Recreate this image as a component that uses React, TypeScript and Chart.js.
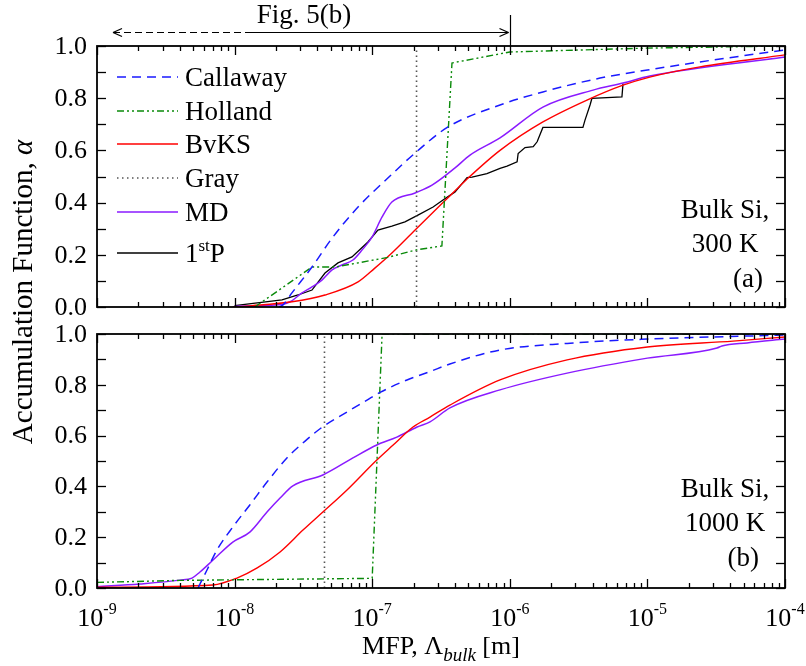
import React, { useEffect, useRef } from "react";
import { Chart, registerables } from "chart.js";

Chart.register(...registerables);

const FONT = '"Liberation Serif", "Times New Roman", serif';

// ---------- axis definitions ----------
const X_MIN = 1e-9;
const X_MAX = 1e-4;
const X_TICK_EXPONENTS = [-9, -8, -7, -6, -5, -4];
const Y_TICK_VALUES = [0, 0.2, 0.4, 0.6, 0.8, 1.0];
const Y_TICK_LABELS = ["0.0", "0.2", "0.4", "0.6", "0.8", "1.0"];
const SERIES_NAMES = ["Callaway", "Holland", "BvKS", "Gray", "MD", "1stP"];

// ---------- panel (a): Bulk Si, 300 K ----------
const callawayA_x = [2.1e-8, 2.25e-8, 2.61e-8, 3.65e-8, 5.11e-8, 7.89e-8, 1.3e-7, 2.05e-7, 3.56e-7, 8.49e-7, 1.74e-6, 4.53e-6, 1e-5, 2.41e-5, 1e-4];
const callawayA_y = [0, 0.008, 0.054, 0.153, 0.264, 0.383, 0.494, 0.59, 0.69, 0.774, 0.824, 0.877, 0.908, 0.939, 0.985];

const hollandA_x = [1.4e-8, 3.65e-8, 5.37e-8, 1.3e-7, 2.05e-7, 3.21e-7, 3.8e-7, 1e-6, 1e-5, 1e-4];
const hollandA_y = [0, 0.153, 0.153, 0.19, 0.218, 0.234, 0.935, 0.977, 0.992, 1.0];

const bvksA_x = [9.7e-9, 1.34e-8, 2.61e-8, 4.54e-8, 7.89e-8, 1.04e-7, 1.39e-7, 2.05e-7, 3.27e-7, 4.0e-7, 4.89e-7, 8.49e-7, 1.74e-6, 3.64e-6, 6.65e-6, 1.04e-5, 2.41e-5, 1e-4];
const bvksA_y = [0, 0.005, 0.02, 0.046, 0.096, 0.148, 0.207, 0.295, 0.4, 0.445, 0.49, 0.6, 0.709, 0.793, 0.85, 0.881, 0.92, 0.966];

const grayA_x = [2.1e-7, 2.1e-7];
const grayA_y = [0, 1];

const mdA_x = [1e-8, 2.2e-8, 2.53e-8, 3.09e-8, 3.65e-8, 4.31e-8, 5.11e-8, 6.03e-8, 7.24e-8, 8.43e-8, 9.97e-8, 1.18e-7, 1.39e-7, 2.05e-7, 2.72e-7, 4.0e-7, 5.14e-7, 8.49e-7, 1.74e-6, 4.03e-6, 6.65e-6, 1.04e-5, 1e-4];
const mdA_y = [0.003, 0.01, 0.02, 0.054, 0.077, 0.103, 0.142, 0.161, 0.18, 0.218, 0.268, 0.345, 0.402, 0.437, 0.467, 0.533, 0.582, 0.648, 0.766, 0.831, 0.858, 0.885, 0.958];

const firstPA_x = [1e-8, 2.21e-8, 2.89e-8, 3.65e-8, 4.54e-8, 5.64e-8, 7.13e-8, 9.31e-8, 1.1e-7, 1.39e-7, 1.73e-7, 2.15e-7, 2.77e-7, 3.27e-7, 4.0e-7, 4.5e-7, 4.89e-7, 5.31e-7, 6.82e-7, 8.49e-7, 9.55e-7, 1.13e-6, 1.15e-6, 1.29e-6, 1.48e-6, 1.58e-6, 1.74e-6, 3.4e-6, 3.52e-6, 3.83e-6, 3.95e-6, 6.53e-6, 6.65e-6];
const firstPA_y = [0.005, 0.027, 0.046, 0.065, 0.13, 0.169, 0.192, 0.249, 0.295, 0.31, 0.326, 0.352, 0.383, 0.41, 0.441, 0.473, 0.496, 0.498, 0.511, 0.531, 0.54, 0.556, 0.588, 0.611, 0.614, 0.633, 0.688, 0.688, 0.716, 0.774, 0.799, 0.805, 0.856];

// ---------- panel (b): Bulk Si, 1000 K ----------
const callawayB_x = [5.42e-9, 6.3e-9, 7.45e-9, 9.7e-9, 1.29e-8, 1.72e-8, 2.4e-8, 3.36e-8, 4.38e-8, 6.56e-8, 9.17e-8, 1.14e-7, 1.79e-7, 2.63e-7, 3.67e-7, 8.49e-7, 2.61e-6, 1e-5, 1e-4];
const callawayB_y = [0, 0.071, 0.15, 0.24, 0.327, 0.417, 0.512, 0.585, 0.635, 0.693, 0.74, 0.77, 0.819, 0.852, 0.882, 0.937, 0.963, 0.98, 0.996];

const hollandB_x = [1e-9, 4e-9, 1e-7, 1.18e-7, 1e-4];
const hollandB_y = [0.022, 0.03, 0.038, 1.0, 1.0];

const bvksB_x = [1e-9, 6.97e-9, 1.04e-8, 1.46e-8, 2.14e-8, 3.14e-8, 4.38e-8, 6.56e-8, 1.08e-7, 1.42e-7, 1.98e-7, 2.63e-7, 3.67e-7, 8.49e-7, 2.61e-6, 1e-5, 4.19e-5, 1e-4];
const bvksB_y = [0.003, 0.012, 0.039, 0.079, 0.142, 0.228, 0.299, 0.386, 0.504, 0.563, 0.634, 0.673, 0.72, 0.819, 0.898, 0.949, 0.972, 0.988];

const grayB_x = [4.5e-8, 4.5e-8];
const grayB_y = [0, 1];

const mdB_x = [1e-9, 2.05e-9, 4.0e-9, 4.9e-9, 5.6e-9, 6.97e-9, 9.7e-9, 1.29e-8, 1.72e-8, 2.14e-8, 2.65e-8, 4.38e-8, 7.24e-8, 1.08e-7, 1.51e-7, 2.12e-7, 2.63e-7, 3.67e-7, 8.49e-7, 2.61e-6, 1e-5, 3.2e-5, 3.48e-5, 5.3e-5, 1e-4];
const mdB_y = [0.005, 0.016, 0.031, 0.039, 0.063, 0.11, 0.181, 0.22, 0.299, 0.354, 0.402, 0.445, 0.512, 0.563, 0.594, 0.634, 0.654, 0.709, 0.78, 0.846, 0.905, 0.945, 0.953, 0.965, 0.98];

// ---------- styles ----------
type Style = { color: string; dash: number[]; width: number; smooth: boolean };
const STYLES: Style[] = [
  { color: "#1a1aff", dash: [9, 6], width: 1.5, smooth: true },
  { color: "#0a8a0a", dash: [7, 3, 2, 3, 2, 3], width: 1.4, smooth: false },
  { color: "#ff0000", dash: [], width: 1.4, smooth: true },
  { color: "#555555", dash: [1.5, 3.5], width: 1.6, smooth: false },
  { color: "#8a1aff", dash: [], width: 1.5, smooth: true },
  { color: "#000000", dash: [], width: 1.3, smooth: false },
];

function pts(xs: number[], ys: number[]) {
  return xs.map((x, i) => ({ x, y: ys[i] }));
}

function buildDatasets(series: { x: number[]; y: number[] }[]) {
  const out: any[] = [];
  series.forEach((s, i) => {
    if (!s) return;
    const st = STYLES[i];
    out.push({
      label: SERIES_NAMES[i],
      data: pts(s.x, s.y),
      showLine: true,
      borderColor: st.color,
      backgroundColor: st.color,
      borderWidth: st.width,
      borderDash: st.dash,
      pointRadius: 0,
      pointHoverRadius: 0,
      fill: false,
      tension: 0,
      cubicInterpolationMode: st.smooth ? "monotone" : "default",
    });
  });
  return out;
}

type Seg = { text: string; font: string; dy?: number };

function segWidth(ctx: CanvasRenderingContext2D, segs: Seg[]) {
  let w = 0;
  for (const s of segs) {
    ctx.font = s.font;
    w += ctx.measureText(s.text).width;
  }
  return w;
}

function drawSegs(ctx: CanvasRenderingContext2D, segs: Seg[], x: number, y: number) {
  for (const s of segs) {
    ctx.font = s.font;
    ctx.fillText(s.text, x, y + (s.dy || 0));
    x += ctx.measureText(s.text).width;
  }
  return x;
}

function line(ctx: CanvasRenderingContext2D, x1: number, y1: number, x2: number, y2: number) {
  ctx.beginPath();
  ctx.moveTo(x1, y1);
  ctx.lineTo(x2, y2);
  ctx.stroke();
}

function makeDecor(panel: "a" | "b") {
  return {
    id: "decor_" + panel,
    afterDatasetsDraw(chart: any) {
      const ctx: CanvasRenderingContext2D = chart.ctx;
      const { left, right, top, bottom } = chart.chartArea;
      const xs = chart.scales.x;
      const ys = chart.scales.y;
      ctx.save();
      ctx.setLineDash([]);
      ctx.strokeStyle = "#000";
      ctx.fillStyle = "#000";

      // ticks
      ctx.lineWidth = 1.3;
      for (let e = -9; e <= -4; e++) {
        for (let m = 1; m <= 9; m++) {
          const v = m * Math.pow(10, e);
          if (v > X_MAX * 1.0001) break;
          const px = Math.round(xs.getPixelForValue(v)) + 0.5;
          const len = m === 1 ? 9 : 5;
          line(ctx, px, bottom, px, bottom - len);
          line(ctx, px, top, px, top + len);
        }
      }
      for (let i = 0; i <= 10; i++) {
        const py = Math.round(ys.getPixelForValue(i / 10)) + 0.5;
        line(ctx, left, py, left + 9, py);
        line(ctx, right, py, right - 9, py);
      }

      // frame
      ctx.lineWidth = 1.8;
      ctx.strokeRect(left, top, right - left, bottom - top);

      // y tick labels
      ctx.font = `26px ${FONT}`;
      ctx.textAlign = "right";
      ctx.textBaseline = "middle";
      Y_TICK_VALUES.forEach((v, i) => {
        ctx.fillText(Y_TICK_LABELS[i], left - 10, ys.getPixelForValue(v) + 1);
      });

      ctx.textAlign = "left";
      ctx.textBaseline = "alphabetic";
      const cx = 725;
      if (panel === "a") {
        // legend
        const rows = [77, 111, 144, 178, 212, 253];
        chart.data.datasets.forEach((ds: any, i: number) => {
          const yy = rows[i];
          ctx.save();
          ctx.strokeStyle = ds.borderColor;
          ctx.lineWidth = ds.borderWidth;
          ctx.setLineDash(ds.borderDash || []);
          line(ctx, 117, yy, 178, yy);
          ctx.restore();
          ctx.fillStyle = "#000";
          if (ds.label === "1stP") {
            drawSegs(ctx, [
              { text: "1", font: `27px ${FONT}` },
              { text: "st", font: `17px ${FONT}`, dy: -11 },
              { text: "P", font: `27px ${FONT}` },
            ], 185, yy + 9);
          } else {
            ctx.font = `27px ${FONT}`;
            ctx.fillText(ds.label, 185, yy + 9);
          }
        });
        // panel text
        ctx.font = `27px ${FONT}`;
        ctx.textAlign = "center";
        ctx.fillText("Bulk Si,", cx, 218);
        ctx.fillText("300 K", cx, 252);
        ctx.textAlign = "right";
        ctx.fillText("(a)", 763, 287);

        // Fig. 5(b) annotation
        ctx.textAlign = "center";
        ctx.fillText("Fig. 5(b)", 304, 23);
        const xv = Math.round(xs.getPixelForValue(1e-6)) + 0.5;
        const ay = 32.5;
        ctx.lineWidth = 1.2;
        line(ctx, xv, 15, xv, top);
        ctx.setLineDash([7, 4]);
        line(ctx, 113, ay, 245, ay);
        ctx.setLineDash([]);
        line(ctx, 245, ay, xv - 2, ay);
        line(ctx, 113, ay, 122, ay - 4);
        line(ctx, 113, ay, 122, ay + 4);
        line(ctx, xv - 2, ay, xv - 11, ay - 4);
        line(ctx, xv - 2, ay, xv - 11, ay + 4);

        // y axis title (spans both panels)
        ctx.save();
        ctx.translate(32, 292);
        ctx.rotate(-Math.PI / 2);
        ctx.textAlign = "left";
        ctx.textBaseline = "alphabetic";
        const tsegs: Seg[] = [
          { text: "Accumulation Function, ", font: `29px ${FONT}` },
          { text: "\u03B1", font: `italic 29px ${FONT}` },
        ];
        const tw = segWidth(ctx, tsegs);
        drawSegs(ctx, tsegs, -tw / 2, 0);
        ctx.restore();
      } else {
        ctx.font = `27px ${FONT}`;
        ctx.textAlign = "center";
        ctx.fillText("Bulk Si,", cx, 497);
        ctx.fillText("1000 K", cx, 531);
        ctx.textAlign = "right";
        ctx.fillText("(b)", 759, 566);

        // x tick labels with superscripts
        ctx.textAlign = "left";
        X_TICK_EXPONENTS.forEach((e) => {
          const px = xs.getPixelForValue(Math.pow(10, e));
          const segs: Seg[] = [
            { text: "10", font: `26px ${FONT}` },
            { text: String(e), font: `16px ${FONT}`, dy: -12 },
          ];
          const w = segWidth(ctx, segs);
          drawSegs(ctx, segs, px - w / 2, 626);
        });

        // x axis title
        const xsegs: Seg[] = [
          { text: "MFP, \u039B", font: `26px ${FONT}` },
          { text: "bulk", font: `italic 19px ${FONT}`, dy: 7 },
          { text: " [m]", font: `26px ${FONT}` },
        ];
        const xw = segWidth(ctx, xsegs);
        drawSegs(ctx, xsegs, (left + right) / 2 - xw / 2, 654);
      }
      ctx.restore();
    },
  };
}

function makeConfig(panel: "a" | "b", datasets: any[], padding: any): any {
  return {
    type: "scatter",
    data: { datasets },
    options: {
      animation: false,
      responsive: false,
      maintainAspectRatio: false,
      events: [],
      layout: { padding },
      plugins: {
        legend: { display: false },
        tooltip: { enabled: false },
        title: { display: false },
      },
      scales: {
        x: { type: "logarithmic", min: X_MIN, max: X_MAX, display: false },
        y: { type: "linear", min: 0, max: 1, display: false },
      },
    },
    plugins: [makeDecor(panel)],
  };
}

export default function App() {
  const refA = useRef<HTMLCanvasElement>(null);
  const refB = useRef<HTMLCanvasElement>(null);

  useEffect(() => {
    const dsA = buildDatasets([
      { x: callawayA_x, y: callawayA_y },
      { x: hollandA_x, y: hollandA_y },
      { x: bvksA_x, y: bvksA_y },
      { x: grayA_x, y: grayA_y },
      { x: mdA_x, y: mdA_y },
      { x: firstPA_x, y: firstPA_y },
    ]);
    const dsB = buildDatasets([
      { x: callawayB_x, y: callawayB_y },
      { x: hollandB_x, y: hollandB_y },
      { x: bvksB_x, y: bvksB_y },
      { x: grayB_x, y: grayB_y },
      { x: mdB_x, y: mdB_y },
    ]);
    const chartA = new Chart(refA.current as HTMLCanvasElement, makeConfig("a", dsA, { left: 97, right: 21, top: 46, bottom: 666 - 307 }));
    const chartB = new Chart(refB.current as HTMLCanvasElement, makeConfig("b", dsB, { left: 97, right: 21, top: 334, bottom: 666 - 588 }));
    return () => {
      chartA.destroy();
      chartB.destroy();
    };
  }, []);

  const cs: React.CSSProperties = { position: "absolute", left: 0, top: 0, width: 806, height: 666 };
  return (
    <div style={{ position: "absolute", left: 0, top: 0, width: 806, height: 666, background: "#fff" }}>
      <canvas ref={refA} width={806} height={666} style={cs} />
      <canvas ref={refB} width={806} height={666} style={cs} />
    </div>
  );
}
